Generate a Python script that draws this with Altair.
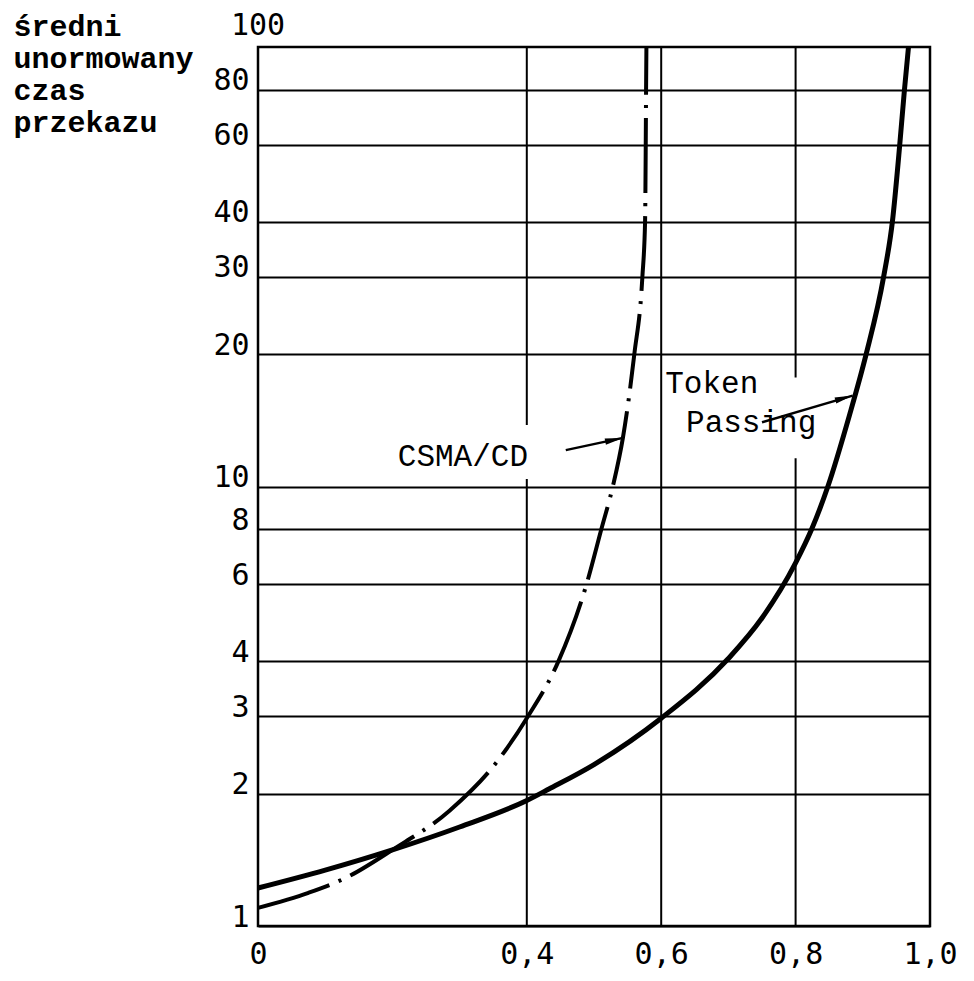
import altair as alt
import pandas as pd

# ---------------- data ----------------
token_x = [0.0, 0.1, 0.2, 0.3, 0.4, 0.433, 0.5, 0.6, 0.7, 0.75, 0.8, 0.824,
           0.848, 0.88, 0.905, 0.931, 0.944, 0.955, 0.962, 0.968]
token_y = [1.22, 1.34, 1.49, 1.68, 1.93, 2.05, 2.33, 2.97, 4.06, 5.02, 6.7, 8.0,
           10.0, 14.5, 20.0, 30.0, 40.0, 60.0, 80.0, 100.0]

csma_x = [0.0, 0.075, 0.132, 0.2, 0.285, 0.357, 0.4, 0.447, 0.489,
          0.511, 0.528, 0.543, 0.56, 0.572, 0.576, 0.577, 0.5775, 0.578]
csma_y = [1.10, 1.19, 1.29, 1.49, 1.83, 2.38, 2.97, 4.0, 6.0,
          8.0, 10.0, 12.9, 20.0, 30.0, 40.0, 60.0, 80.0, 100.0]

x_ticks = [0.0, 0.4, 0.6, 0.8, 1.0]
y_ticks = [1, 2, 3, 4, 6, 8, 10, 20, 30, 40, 60, 80]
top_label = ["100"]
top_label_x = [0.0]
top_label_y = [100.0]

y_title = ["średni", "unormowany", "czas", "przekazu"]

# vertical grid line segments (broken behind the annotations)
vgrid_x = [0.4, 0.4, 0.6, 0.8, 0.8]
vgrid_y1 = [1.0, 13.8, 1.0, 1.0, 17.7]
vgrid_y2 = [10.4, 100.0, 100.0, 11.6, 100.0]

ann_text = ["CSMA/CD", "Token", "Passing"]
ann_x = [0.208, 0.606, 0.637]
ann_y = [11.16, 16.3, 13.3]

arrow_x1 = [0.458, 0.75]
arrow_y1 = [12.1, 14.0]
arrow_x2 = [0.543, 0.885]
arrow_y2 = [12.9, 16.1]
arrow_angle = [78, 74]

# ---------------- tables ----------------
token_df = pd.DataFrame({"x": token_x, "y": token_y})
csma_df = pd.DataFrame({"x": csma_x, "y": csma_y})
vgrid_df = pd.DataFrame({"x": vgrid_x, "y": vgrid_y1, "y2": vgrid_y2})
ann_df = pd.DataFrame({"x": ann_x, "y": ann_y, "t": ann_text})
arrow_df = pd.DataFrame({"x": arrow_x1, "y": arrow_y1, "x2": arrow_x2,
                         "y2": arrow_y2, "a": arrow_angle})
top_df = pd.DataFrame({"x": top_label_x, "y": top_label_y, "t": top_label})

W, H = 672, 879
xs = alt.Scale(domain=[0, 1], nice=False, zero=False)
ys = alt.Scale(type="log", domain=[1, 100], nice=False)

x_axis = alt.Axis(
    values=x_ticks,
    labelExpr="datum.value == 0 ? '0' : replace(format(datum.value, '.1f'), '.', ',')",
    grid=False, ticks=False, domain=False, title=None,
    labelFont="DejaVu Sans Mono", labelFontSize=30, labelColor="black",
    labelPadding=13, labelFlush=False, labelOverlap=False, labelBound=False,
)
y_axis = alt.Axis(
    values=y_ticks, format="d",
    grid=True, gridColor="black", gridWidth=2, gridOpacity=1,
    ticks=False, domain=False,
    labelFont="DejaVu Sans Mono", labelFontSize=30, labelColor="black",
    labelPadding=9, labelBaseline="alphabetic", labelOverlap=False,
    labelFlush=False, labelBound=False,
    title=y_title, titleAngle=0, titleAlign="left", titleBaseline="alphabetic",
    titleX=-245, titleY=-12, titleFont="Liberation Mono", titleFontWeight="bold",
    titleFontSize=30, titleLineHeight=32, titleColor="black",
)


def X(field):
    return alt.X(field, scale=xs, axis=x_axis)


def Y(field):
    return alt.Y(field, scale=ys, axis=y_axis)


token = alt.Chart(token_df).mark_line(
    color="black", strokeWidth=5, interpolate="monotone"
).encode(x=X("x:Q"), y=Y("y:Q"))

csma = alt.Chart(csma_df).mark_line(
    color="black", strokeWidth=4, interpolate="monotone",
    strokeDash=[75, 10, 3, 10], strokeCap="butt",
).encode(x=X("x:Q"), y=Y("y:Q"))

vgrid = alt.Chart(vgrid_df).mark_rule(color="black", strokeWidth=2).encode(
    x=X("x:Q"), y=Y("y:Q"), y2="y2:Q",
)

ann = alt.Chart(ann_df).mark_text(
    align="left", baseline="alphabetic", font="Liberation Mono",
    fontSize=31, color="black",
).encode(x=X("x:Q"), y=Y("y:Q"), text="t:N")

arrow_line = alt.Chart(arrow_df).mark_rule(color="black", strokeWidth=2.5).encode(
    x=X("x:Q"), y=Y("y:Q"), x2="x2:Q", y2="y2:Q",
)

arrow_head = alt.Chart(arrow_df).mark_point(
    shape="M0,0L0.35,2L-0.35,2Z", filled=True, color="black",
    size=324, opacity=1, strokeWidth=0,
).encode(
    x=X("x2:Q"), y=Y("y2:Q"),
    angle=alt.Angle("a:Q", scale=None),
)

top_lbl = alt.Chart(top_df).mark_text(
    align="center", baseline="alphabetic", dy=-12,
    font="DejaVu Sans Mono", fontSize=30, color="black",
).encode(x=X("x:Q"), y=Y("y:Q"), text="t:N")

chart = alt.layer(
    token, vgrid, csma, ann, arrow_line, arrow_head, top_lbl
).properties(
    width=W, height=H,
    autosize=alt.AutoSizeParams(type="none"),
    padding={"left": 250, "top": 39, "right": 36, "bottom": 44},
    background="white",
).configure_view(
    stroke="black", strokeWidth=2.5
)

chart.save("out.html", embed_options={"renderer": "svg", "actions": False})
